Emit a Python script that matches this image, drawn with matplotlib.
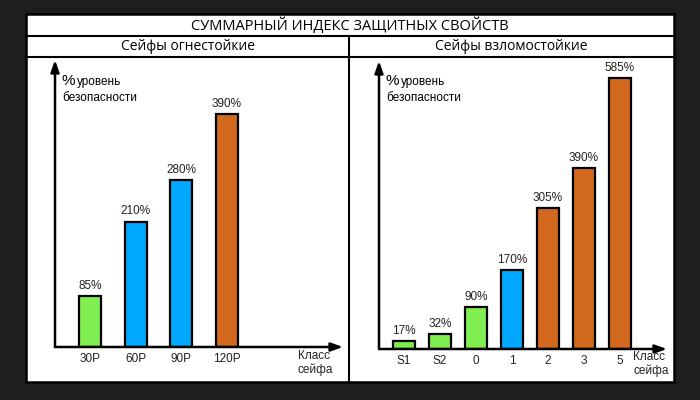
import matplotlib
matplotlib.use("Agg")
import matplotlib.pyplot as plt
from matplotlib.patches import Rectangle
from matplotlib.lines import Line2D

# data
title = "СУММАРНЫЙ ИНДЕКС ЗАЩИТНЫХ СВОЙСТВ"
fire_title = "Сейфы огнестойкие"
fire_classes = ["30P", "60P", "90P", "120P"]
fire_values = [85, 210, 280, 390]
fire_colors = ["#80EE50", "#00A8FF", "#00A8FF", "#D2691F"]

burg_title = "Сейфы взломостойкие"
burg_classes = ["S1", "S2", "0", "1", "2", "3", "5"]
burg_values = [17, 32, 90, 170, 305, 390, 585]
burg_colors = ["#80EE50", "#80EE50", "#80EE50", "#00A8FF",
               "#D2691F", "#D2691F", "#D2691F"]

W, H = 700, 400
fig = plt.figure(figsize=(7, 4), dpi=100, facecolor="#1e1e1e")
plt.rcParams['font.family'] = ['Liberation Sans', 'DejaVu Sans']


def px(x, y):
    # pixel (from top-left) -> figure fraction
    return x / W, 1 - y / H


def fline(x0, y0, x1, y1, lw=1.5):
    a, b = px(x0, y0)
    c, d = px(x1, y1)
    fig.add_artist(Line2D([a, c], [b, d], color="black", lw=lw,
                          transform=fig.transFigure))


# white frame
x0, y0 = px(26, 382)
fig.add_artist(Rectangle((x0, y0), (674 - 26) / W, (382 - 14) / H,
                         transform=fig.transFigure, facecolor="white",
                         edgecolor="black", lw=1.8, zorder=-5))
fline(26, 36, 674, 36)
fline(26, 57, 674, 57)
fline(349, 36, 349, 382)

hfont = ['Open Sans', 'DejaVu Sans']
fig.text(*px(350, 26), title, ha="center", va="center", fontsize=10.5,
         family=hfont)
fig.text(*px(188, 47), fire_title, ha="center", va="center", fontsize=10,
         family=hfont)
fig.text(*px(511, 47), burg_title, ha="center", va="center", fontsize=10,
         family=hfont)


def panel(left, right, top, base, centers0, spacing, barw_px,
          classes, values, colors, ytop_px_val):
    fx0, fy0 = px(left, base)
    fx1, fy1 = px(right, top)
    ax = fig.add_axes([fx0, fy0, fx1 - fx0, fy1 - fy0])
    ax.patch.set_alpha(0)
    n = len(classes)
    xs = list(range(n))
    ax.set_xlim((left - centers0) / spacing, (right - centers0) / spacing)
    vmax, hpx = ytop_px_val
    ax.set_ylim(0, vmax * (base - top) / hpx)
    ax.bar(xs, values, width=barw_px / spacing, color=colors,
           edgecolor="black", lw=1.6, zorder=3)
    for x, v in zip(xs, values):
        ax.annotate(f"{v}%", (x, v), xytext=(0, 3), textcoords="offset points",
                    ha="center", va="bottom", fontsize=8.5, color="#222222")
    for s in ax.spines.values():
        s.set_visible(False)
    ax.set_xticks(xs)
    ax.set_xticklabels(classes, fontsize=8.5)
    ax.tick_params(length=0, pad=4, labelcolor="#222222")
    ax.set_yticks([])
    arrow = dict(arrowstyle="-|>,head_length=0.7,head_width=0.25",
                 lw=1.8, color="black", shrinkA=0, shrinkB=0)
    ax.annotate("", xy=(0, 1), xytext=(0, 0), xycoords="axes fraction",
                arrowprops=arrow)
    ax.annotate("", xy=(1, 0), xytext=(0, 0), xycoords="axes fraction",
                arrowprops=arrow)
    return ax


panel(55, 343, 60, 347, 90, 45.5, 22, fire_classes, fire_values,
      fire_colors, (390, 233))
panel(379, 667, 61, 349, 404, 36, 22, burg_classes, burg_values,
      burg_colors, (585, 271))

# axis captions
for xl in [62, 386]:
    fig.text(*px(xl, 81), "%", fontsize=11, ha="left", va="center")
    fig.text(*px(xl + 15, 82), "уровень", fontsize=8.5, ha="left",
             va="center")
    fig.text(*px(xl, 98), "безопасности", fontsize=8.5, ha="left",
             va="center")

fig.text(*px(298, 363), "Класс\nсейфа", fontsize=8.5, ha="left", va="center",
         linespacing=1.25, color="#222222")
fig.text(*px(633, 364), "Класс\nсейфа", fontsize=8.5, ha="left", va="center",
         linespacing=1.25, color="#222222")

fig.savefig("out.png", dpi=100, facecolor=fig.get_facecolor())
